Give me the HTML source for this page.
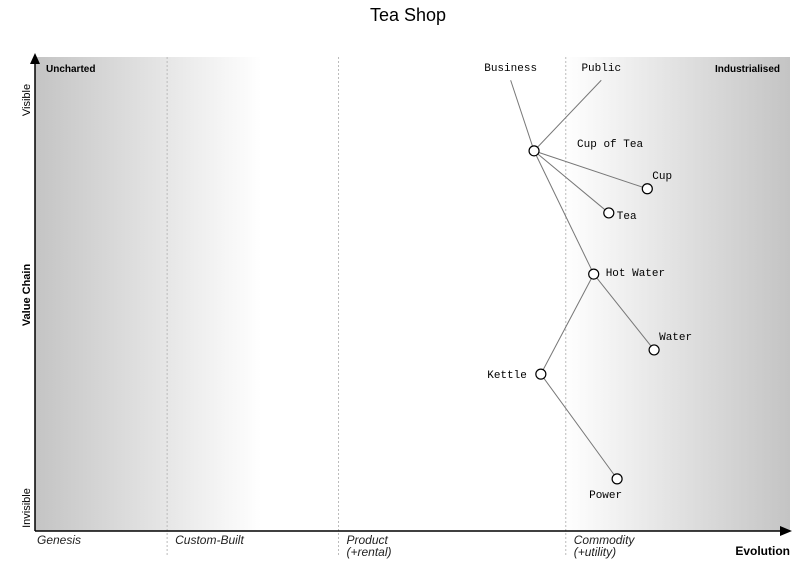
<!DOCTYPE html>
<html><head><meta charset="utf-8"><style>
html,body{margin:0;padding:0;background:#fff;width:794px;height:584px;overflow:hidden}
svg{display:block}
.mono{font-family:"Liberation Mono",monospace;font-size:11px;fill:#000}
.ital{font-family:"Liberation Sans",sans-serif;font-style:italic;font-size:12px;fill:#222}
</style></head><body>
<svg id="chart" width="794" height="584">
<defs>
<linearGradient id="bg" x1="0" x2="1" y1="0" y2="0">
<stop offset="0" stop-color="#c4c4c4"/>
<stop offset="0.3" stop-color="#fff"/>
<stop offset="0.7" stop-color="#fff"/>
<stop offset="1" stop-color="#c4c4c4"/>
</linearGradient>
</defs>
<text x="408" y="21" text-anchor="middle" font-family="Liberation Sans,sans-serif" font-size="18">Tea Shop</text>
<rect x="35" y="57" width="755" height="474" fill="url(#bg)"/>
<g id="stages"></g>
<line x1="35" y1="531" x2="35" y2="62" stroke="#000" stroke-width="1.5"/>
<polygon points="35,53 30,64 40,64" fill="#000"/>
<line x1="35" y1="531" x2="782" y2="531" stroke="#000" stroke-width="1.5"/>
<polygon points="792,531 780,526 780,536" fill="#000"/>
<text x="46" y="72" font-family="Liberation Sans,sans-serif" font-size="10" font-weight="bold">Uncharted</text>
<text x="780" y="72" text-anchor="end" font-family="Liberation Sans,sans-serif" font-size="10" font-weight="bold">Industrialised</text>
<text transform="translate(30,100) rotate(-90)" text-anchor="middle" font-family="Liberation Sans,sans-serif" font-size="11">Visible</text>
<text transform="translate(30,508) rotate(-90)" text-anchor="middle" font-family="Liberation Sans,sans-serif" font-size="11">Invisible</text>
<text transform="translate(30,295) rotate(-90)" text-anchor="middle" font-family="Liberation Sans,sans-serif" font-size="11" font-weight="bold">Value Chain</text>
<text x="790" y="555" text-anchor="end" font-family="Liberation Sans,sans-serif" font-size="12" font-weight="bold">Evolution</text>
<g id="links"></g>
<g id="nodes"></g>
</svg>
<script>
const stageNames=["Genesis","Custom-Built","Product","Commodity"];
const stageSub=["","","(+rental)","(+utility)"];
const stagePos=[0,0.175,0.402,0.703];
const compNames=["Cup of Tea","Cup","Tea","Hot Water","Water","Kettle","Power"];
const compMaturity=[0.661,0.811,0.760,0.740,0.820,0.670,0.771];
const compVisibility=[0.802,0.722,0.671,0.542,0.382,0.331,0.110];
const anchorNames=["Business","Public"];
const anchorMaturity=[0.630,0.750];
const anchorVisibility=[0.97,0.97];
const linkFrom=["Business","Public","Cup of Tea","Cup of Tea","Cup of Tea","Hot Water","Hot Water","Kettle"];
const linkTo=["Cup of Tea","Cup of Tea","Cup","Tea","Hot Water","Water","Kettle","Power"];
const labelDx=[43,5,8,12,5,-14,-28];
const labelDy=[-4,-10,6,2,-10,4,19];
const labelAnchor=["start","start","start","start","start","end","start"];

const NS="http://www.w3.org/2000/svg";
const X0=35,W=755,Y0=57,H=474;
const sx=m=>X0+m*W, sy=v=>Y0+(1-v)*H;
function mk(t,a,p){const e=document.createElementNS(NS,t);for(const k in a)e.setAttribute(k,a[k]);p.appendChild(e);return e;}
const sg=document.getElementById('stages');
stageNames.forEach((n,i)=>{
  const x=sx(stagePos[i]);
  if(i>0){const l=mk('line',{x1:x,y1:Y0,x2:x,y2:556,stroke:'#bbb','stroke-dasharray':'2,2'},sg);
  
  }
  const t=mk('text',{x:x+(i==0?2:8),y:544,class:'ital'},sg);t.textContent=n;
  
  
  if(stageSub[i]){const s=mk('text',{x:x+8,y:556,class:'ital'},sg);s.textContent=stageSub[i];
  
  }
});
function pos(name){let i=compNames.indexOf(name);if(i>=0)return [sx(compMaturity[i]),sy(compVisibility[i])];
 i=anchorNames.indexOf(name);return [sx(anchorMaturity[i]),sy(anchorVisibility[i])+9];}
const lg=document.getElementById('links');
linkFrom.forEach((f,i)=>{const a=pos(f),b=pos(linkTo[i]);
 const l=mk('line',{x1:a[0],y1:a[1],x2:b[0],y2:b[1],stroke:'#777','stroke-width':1},lg);
 
 });
const ng=document.getElementById('nodes');
anchorNames.forEach((n,i)=>{const t=mk('text',{x:sx(anchorMaturity[i]),y:sy(anchorVisibility[i]),'text-anchor':'middle',class:'mono','font-size':'13'},ng);
 t.textContent=n;
 
 });
compNames.forEach((n,i)=>{const x=sx(compMaturity[i]),y=sy(compVisibility[i]);
 const c=mk('circle',{cx:x,cy:y,r:5,fill:'#fff',stroke:'#000','stroke-width':1.2},ng);
 
 
 const t=mk('text',{x:x+labelDx[i],y:y+labelDy[i],class:'mono','text-anchor':labelAnchor[i]},ng);t.textContent=n;
 
 });
</script>
</body></html>
